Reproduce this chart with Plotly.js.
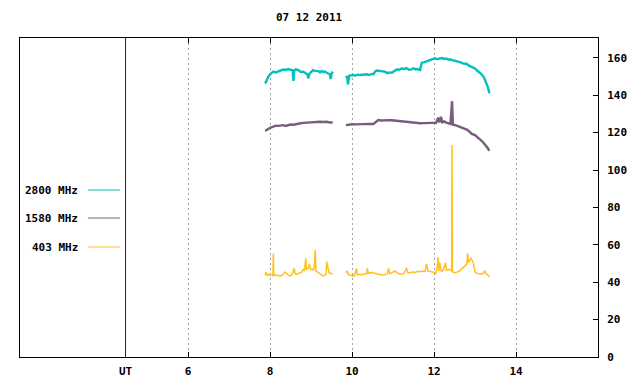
<!DOCTYPE html>
<html><head><meta charset="utf-8">
<script src="https://cdn.plot.ly/plotly-3.0.1.min.js"></script>
<style>html,body{margin:0;padding:0;background:#fff}#c{width:640px;height:384px}</style>
</head><body><div id="c"></div>
<script>
var title = "07 12 2011";
var names = ["2800 MHz", "1580 MHz", "403 MHz"];
var colors = ["#00c0c0", "#7a5c7f", "#ffc020"];
var xTickVals = [6, 8, 10, 12, 14];
var yTickVals = [0, 20, 40, 60, 80, 100, 120, 140, 160];
var utLabel = "UT";
var utPos = 4.474;

var t2800 = [7.88,7.92,7.96,8.00,8.04,8.08,8.14,8.20,8.26,8.32,8.38,8.44,8.50,8.55,8.57,8.59,8.63,8.69,8.75,8.81,8.87,8.91,8.93,8.96,9.00,9.05,9.10,9.14,9.18,9.22,9.26,9.30,9.34,9.38,9.42,9.46,9.48,9.50,9.53,9.68,
 9.85,9.88,9.90,9.93,9.97,10.03,10.08,10.14,10.19,10.25,10.30,10.36,10.42,10.48,10.52,10.56,10.60,10.66,10.72,10.80,10.86,10.92,10.97,11.03,11.09,11.15,11.21,11.27,11.33,11.39,11.45,11.50,11.55,11.60,11.66,11.68,11.70,11.75,11.80,11.86,11.92,11.97,12.02,12.08,12.14,12.19,12.25,12.30,12.35,12.39,12.45,12.50,12.55,12.59,12.65,12.70,12.75,12.80,12.85,12.90,12.95,13.00,13.05,13.10,13.14,13.18,13.22,13.26,13.29,13.31,13.33,13.35];
var v2800 = [146.3,148.7,150.0,151.2,152.0,152.6,152.2,152.6,153.2,153.7,153.5,154.0,153.6,153.4,147.6,153.2,153.8,153.4,152.4,152.6,151.8,151.2,149.0,151.4,152.4,153.4,153.0,152.9,152.9,152.2,153.0,152.4,152.6,152.0,151.8,151.2,148.7,151.6,152.6,null,
 149.4,150.2,145.8,150.4,150.6,150.8,150.5,151.0,150.8,151.0,151.2,151.2,150.8,151.4,151.2,152.6,153.2,153.0,152.8,152.6,151.8,152.2,152.0,153.0,153.8,153.6,154.3,154.0,154.5,153.6,153.8,154.4,153.8,154.0,153.5,155.5,157.4,157.6,158.0,158.5,158.8,159.2,159.7,159.3,159.6,159.9,159.4,159.6,159.0,159.2,158.8,158.6,158.2,157.9,157.6,157.0,156.9,156.7,155.8,155.4,154.8,154.3,153.2,152.4,151.6,150.6,149.4,147.2,146.0,144.5,143.0,141.0];

var t1580 = [7.88,7.94,8.00,8.08,8.14,8.20,8.26,8.32,8.38,8.44,8.50,8.57,8.63,8.69,8.75,8.81,8.87,8.93,9.00,9.06,9.12,9.18,9.22,9.30,9.38,9.46,9.53,9.70,
 9.85,9.92,10.00,10.08,10.19,10.30,10.40,10.52,10.58,10.64,10.72,10.80,10.90,10.97,11.05,11.15,11.25,11.35,11.45,11.55,11.66,11.75,11.86,11.95,12.05,12.10,12.13,12.17,12.20,12.25,12.30,12.35,12.40,12.44,12.46,12.52,12.59,12.66,12.73,12.80,12.86,12.92,13.00,13.06,13.12,13.18,13.24,13.30,13.35];
var v1580 = [120.9,122.0,122.6,123.2,123.7,123.6,123.9,124.0,123.6,123.9,124.3,124.2,124.6,125.0,125.0,125.2,125.3,125.5,125.6,125.8,125.6,125.9,125.8,125.7,125.8,125.4,125.5,null,
 124.0,124.3,124.5,124.4,124.6,124.5,124.7,124.6,125.6,126.7,126.5,126.7,126.7,126.6,126.4,126.2,126.0,125.6,125.3,125.0,125.0,125.1,125.0,125.2,125.3,128.0,125.4,128.5,125.5,126.0,125.3,125.0,124.6,136.9,124.2,124.0,123.4,123.0,122.4,121.6,120.6,119.3,118.7,117.3,116.4,115.2,113.8,112.0,110.3];

var t403 = [7.88,7.90,7.93,7.98,8.03,8.07,8.08,8.09,8.15,8.20,8.26,8.31,8.36,8.41,8.45,8.49,8.54,8.59,8.61,8.65,8.71,8.77,8.81,8.84,8.87,8.89,8.93,8.96,8.99,9.03,9.05,9.08,9.10,9.12,9.18,9.23,9.30,9.34,9.37,9.38,9.40,9.42,9.44,9.48,9.53,9.70,
 9.85,9.88,9.91,9.95,10.00,10.05,10.11,10.13,10.19,10.25,10.30,10.36,10.37,10.40,10.45,10.52,10.58,10.64,10.72,10.80,10.86,10.89,10.92,10.98,11.05,11.10,11.15,11.21,11.27,11.33,11.36,11.42,11.48,11.53,11.60,11.66,11.72,11.78,11.82,11.85,11.90,11.96,12.00,12.04,12.07,12.10,12.12,12.14,12.16,12.18,12.23,12.28,12.30,12.35,12.40,12.43,12.44,12.45,12.50,12.56,12.63,12.67,12.71,12.76,12.80,12.82,12.84,12.87,12.90,12.93,12.96,13.00,13.04,13.08,13.12,13.18,13.24,13.26,13.30,13.33,13.35];
var v403 = [43.8,45.4,43.6,44.2,43.6,43.5,55.4,43.6,43.8,43.5,43.2,44.0,45.4,44.6,43.6,43.3,44.2,47.4,44.6,44.2,45.0,45.4,46.8,46.0,52.8,46.8,47.4,49.7,46.8,47.0,46.5,48.0,57.2,46.0,45.1,44.2,43.3,43.6,44.4,51.0,49.0,48.0,45.0,44.6,44.6,null,
 45.1,46.1,44.0,43.8,43.5,43.2,47.4,43.8,44.2,44.0,44.4,44.6,47.4,44.8,45.2,45.1,44.6,44.4,43.8,44.0,44.4,47.4,44.6,45.2,46.0,45.0,44.6,44.2,44.8,47.7,45.0,45.0,45.6,45.1,45.8,45.6,46.0,45.8,49.7,46.0,45.8,45.6,45.2,44.6,46.8,53.4,46.0,50.5,46.2,45.6,46.6,50.5,46.6,46.5,46.8,46.0,113.4,45.6,45.1,45.4,46.1,47.0,48.0,48.8,49.7,55.4,50.5,51.8,52.8,51.6,50.1,45.6,44.8,44.6,44.6,44.4,46.1,44.6,44.2,43.3,42.8];

var fnt = {family: "DejaVu Sans Mono", size: 11, color: "#000", weight: "bold"};
var series = [[t2800, v2800, 2.4], [t1580, v1580, 2.4], [t403, v403, 1.5]];
var traces = series.map(function (s, i) {
  return {x: s[0], y: s[1], type: "scatter", mode: "lines", name: names[i],
          line: {color: colors[i], width: s[2]}, connectgaps: false, showlegend: false};
});

var legY = [0.5235, 0.4357, 0.3448];
var annotations = names.map(function (n, i) {
  return {xref: "paper", yref: "paper", x: 0.104, y: legY[i], xanchor: "right", yanchor: "middle",
          text: n, showarrow: false, font: fnt};
});
annotations.push({xref: "paper", yref: "paper", x: 0.5, y: 1.063, xanchor: "center", yanchor: "middle",
                  text: title, showarrow: false, font: fnt});
annotations.push({xref: "x", yref: "paper", x: utPos, y: -0.047, xanchor: "center", yanchor: "middle",
                  text: utLabel, showarrow: false, font: fnt});
var shapes = names.map(function (n, i) {
  return {type: "line", xref: "paper", yref: "paper", x0: 0.1176, x1: 0.173, y0: legY[i], y1: legY[i],
          line: {color: colors[i], width: 1}};
});
shapes.push({type: "line", xref: "x", yref: "paper", x0: utPos, x1: utPos, y0: 0, y1: 1,
             line: {color: "#800000", width: 1}, layer: "above"});

var layout = {
  width: 640, height: 384,
  margin: {l: 20, r: 42, t: 38, b: 27, pad: 0},
  paper_bgcolor: "#fff", plot_bgcolor: "#fff",
  font: fnt,
  showlegend: false,
  xaxis: {range: [1.9, 16], tickvals: xTickVals, ticktext: xTickVals.map(String),
          ticks: "inside", ticklen: 5, tickcolor: "#000", showline: true, linecolor: "#000", linewidth: 1,
          mirror: "ticks", showgrid: true, gridcolor: "#a0a0a0", griddash: "2px,3px", gridwidth: 1,
          zeroline: false, tickfont: fnt, ticklabelstandoff: 4},
  yaxis: {range: [0, 170.6], side: "right", tickvals: yTickVals, ticks: "inside", ticklen: 5, tickcolor: "#000",
          showline: true, linecolor: "#000", linewidth: 1, mirror: true, showgrid: false, zeroline: false,
          tickfont: fnt, ticklabelstandoff: 6},
  annotations: annotations,
  shapes: shapes
};
Plotly.newPlot("c", traces, layout, {displayModeBar: false, staticPlot: true});
</script></body></html>
